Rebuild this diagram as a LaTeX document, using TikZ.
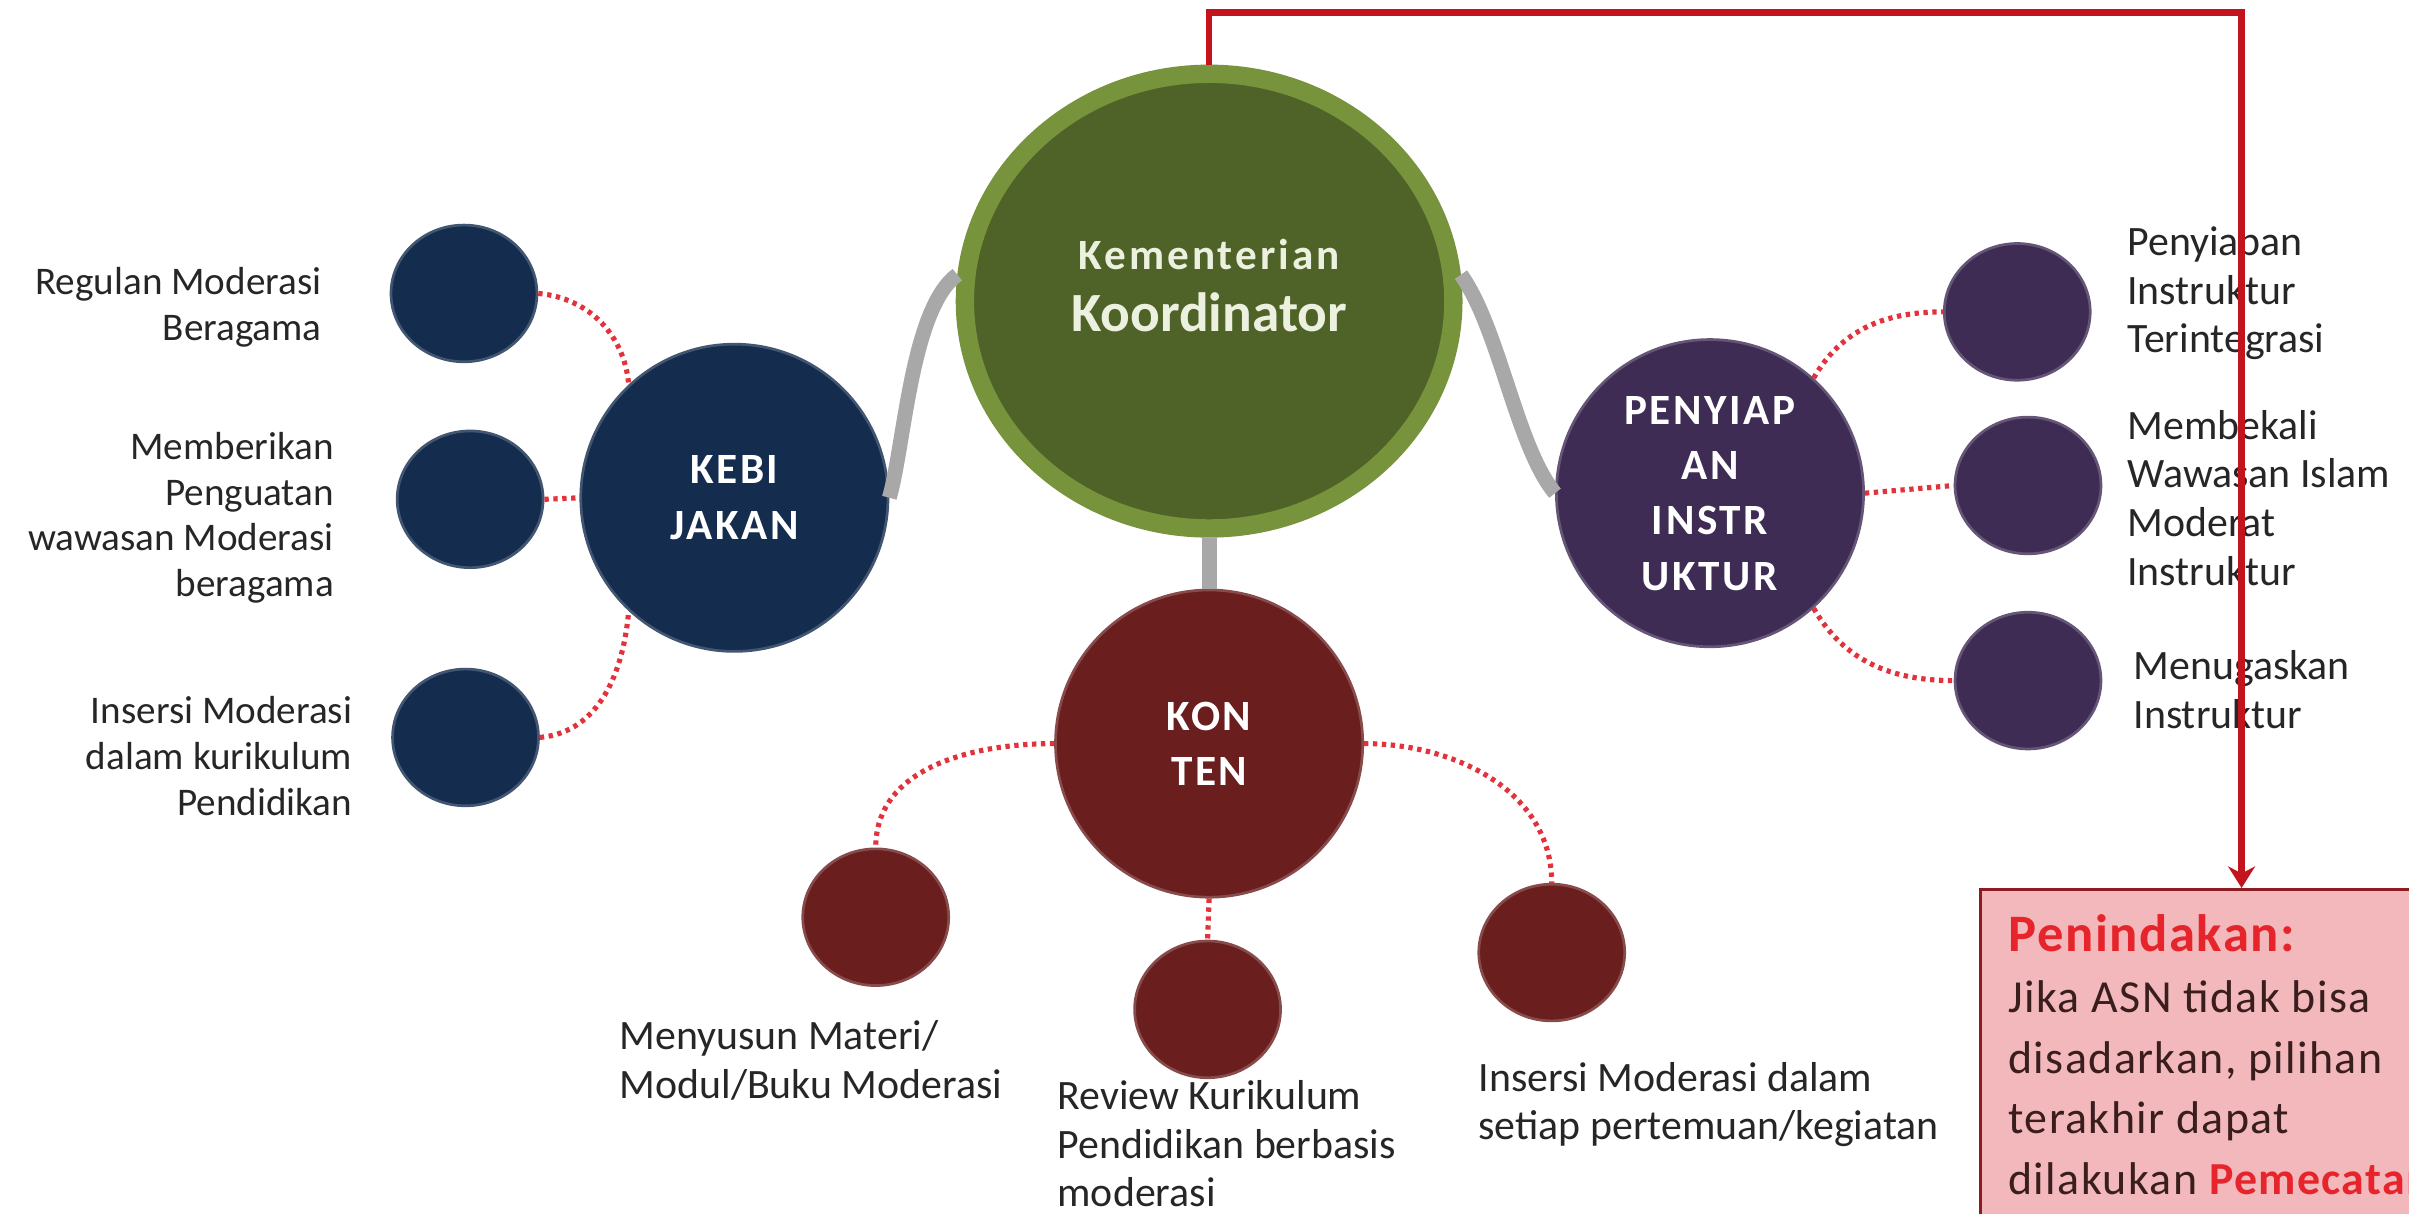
\documentclass[tikz,border=0pt]{standalone}
\usepackage{fontspec}
\setmainfont{Carlito}
\usetikzlibrary{arrows.meta,positioning,shapes.geometric}

\definecolor{koorrim}{HTML}{77933C}
\definecolor{koorfill}{HTML}{4F6228}
\definecolor{koortext}{HTML}{EBF1DE}
\definecolor{kebicol}{HTML}{142C4E}
\definecolor{kontencol}{HTML}{6A1E1E}
\definecolor{instrcol}{HTML}{3E2C55}
\definecolor{stemgray}{HTML}{A8A8A8}
\definecolor{dotred}{HTML}{E2323C}
\definecolor{linered}{HTML}{C3141E}
\definecolor{boxpink}{HTML}{F2B8BC}
\definecolor{boxedge}{HTML}{8E1B22}
\definecolor{alertred}{HTML}{E5252B}
\definecolor{boxtext}{HTML}{3A1E1E}

\begin{document}
\begin{tikzpicture}[x=0.02cm, y=-0.02cm,
  hub/.style={circle, fill=#1, draw=#1!80!white, line width=1pt,
              minimum size=4cm, align=center, text=white,
              font=\fontsize{16}{20.5}\selectfont\bfseries\addfontfeature{LetterSpace=6}},
  leaf/.style={ellipse, fill=#1, draw=#1!80!white, line width=1pt,
               minimum width=1.9cm, minimum height=1.78cm},
  lbl/.style={inner sep=0pt, text=black!85, font=\fontsize{14.5}{17}\selectfont},
  lblb/.style={inner sep=0pt, text=black!85, font=\fontsize{15.5}{18}\selectfont},
  dots/.style={dotred, line width=1.9pt, dash pattern=on 1.6pt off 1.7pt},
  stem/.style={stemgray, line width=5.5pt},
  arr/.style={linered, line width=2.4pt, -{Stealth[length=8pt, width=10pt]}},
]
\useasboundingbox (0,0) rectangle (1568,790);
\clip (0,0) rectangle (1568,790);

% centre
\node[ellipse, fill=koorfill, draw=koorrim, line width=6.8pt,
      minimum width=6.36cm, minimum height=5.92cm] (koor) at (787,196) {};
\node[align=center, text=koortext, font=\fontsize{20.5}{23}\selectfont\bfseries]
      (koortxt) at (787,186)
      {{\fontsize{16}{19}\selectfont\addfontfeature{LetterSpace=7}Kementerian}\\Koordinator};

% three hubs
\node[hub=kebicol]   (kebi)   at (478,324)  {KEBI\\JAKAN};
\node[hub=kontencol] (konten) at (787,484)  {KON\\TEN};
\node[hub=instrcol]  (instr)  at (1113,321) {PENYIAP\\AN\\INSTR\\UKTUR};

% leaves
\node[leaf=kebicol] (s1) at (302,191) {};
\node[leaf=kebicol] (s2) at (306,325) {};
\node[leaf=kebicol] (s3) at (303,480) {};
\node[leaf=kontencol] (k1) at (570,597) {};
\node[leaf=kontencol] (k2) at (786,657) {};
\node[leaf=kontencol] (k3) at (1010,620) {};
\node[leaf=instrcol] (p1) at (1313,203) {};
\node[leaf=instrcol] (p2) at (1320,316) {};
\node[leaf=instrcol] (p3) at (1320,443) {};

% labels
\node[lbl, align=right, left=0.88cm of s1, yshift=-0.18cm] (t1) {Regulan Moderasi\\Beragama};
\node[lbl, align=right, left=0.8cm of s2, yshift=-0.24cm] (t2) {Memberikan\\Penguatan\\wawasan Moderasi\\beragama};
\node[lbl, align=right, left=0.5cm of s3, yshift=-0.24cm] (t3) {Insersi Moderasi\\dalam kurikulum\\Pendidikan};
\node[lblb, align=left, anchor=north west] (t4) at (403,664) {Menyusun Materi/\\Modul/Buku Moderasi};
\node[lblb, align=left, anchor=north west] (t5) at (688,703) {Review Kurikulum\\Pendidikan berbasis\\moderasi};
\node[lblb, align=left, anchor=north west] (t6) at (962,691) {Insersi Moderasi dalam\\setiap pertemuan/kegiatan};
\node[lblb, align=left, right=0.46cm of p1, yshift=0.24cm] (t7) {Penyiapan\\Instruktur\\Terintegrasi};
\node[lblb, align=left, right=0.32cm of p2, yshift=-0.16cm] (t8) {Membekali\\Wawasan Islam\\Moderat\\Instruktur};
\node[lblb, align=left, right=0.4cm of p3, yshift=-0.12cm] (t9) {Menugaskan\\Instruktur};

% grey stems
\draw[stem] (koor.174) .. controls +(-30,22) and +(10,-35) .. (kebi.east);
\draw[stem] (koor.6) .. controls +(25,35) and +(-25,-30) .. (instr.west);
\draw[stem] (koor.south) -- (konten.north);

% dotted links
\draw[dots] (s1.east) to[out=-5, in=95] (kebi.133);
\draw[dots] (s2.east) -- (kebi.west);
\draw[dots] (s3.east) to[out=5, in=-95] (kebi.227);
\draw[dots] (konten.west) to[out=180, in=90] (k1.north);
\draw[dots] (konten.south) -- (k2.north);
\draw[dots] (konten.east) to[out=0, in=90] (k3.north);
\draw[dots] (instr.48) to[out=60, in=180] (p1.west);
\draw[dots] (instr.east) -- (p2.west);
\draw[dots] (instr.-48) to[out=-60, in=180] (p3.west);

% penindakan
\node[fill=boxpink, draw=boxedge, line width=1.2pt, minimum width=6.8cm,
      minimum height=6cm, anchor=north west] (tindak) at (1288,578) {};
\node[anchor=north west, align=left, inner sep=0pt, text=boxtext,
      font=\fontsize{17}{22.5}\selectfont\addfontfeature{LetterSpace=3}]
      (tindaktxt) at ([xshift=0.38cm, yshift=-0.34cm]tindak.north west)
      {{\color{alertred}\fontsize{19.5}{22.5}\selectfont\bfseries Penindakan:}\\
       Jika ASN tidak bisa\\disadarkan, pilihan\\terakhir dapat\\
       dilakukan {\color{alertred}\bfseries Pemecatan}};
\draw[arr] (koor.north) -- ++(0,-34) -| (tindak.north);
\end{tikzpicture}
\end{document}
